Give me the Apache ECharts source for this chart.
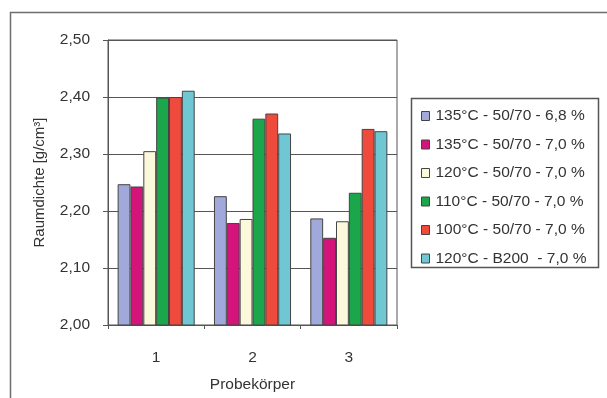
<!DOCTYPE html>
<html>
<head>
<meta charset="utf-8">
<script src="https://cdn.jsdelivr.net/npm/echarts@6/dist/echarts.min.js"></script>
<style>
html,body{margin:0;padding:0;background:#fff;}
#c{width:607px;height:398px;}
</style>
</head>
<body>
<div id="c"></div>
<script>
const categories = ['1', '2', '3'];
const seriesNames = [
  '135°C - 50/70 - 6,8 %',
  '135°C - 50/70 - 7,0 %',
  '120°C - 50/70 - 7,0 %',
  '110°C - 50/70 - 7,0 %',
  '100°C - 50/70 - 7,0 %',
  '120°C - B200  - 7,0 %'
];
const s1 = [2.247, 2.226, 2.187];
const s2 = [2.243, 2.179, 2.153];
const s3 = [2.305, 2.186, 2.182];
const s4 = [2.399, 2.362, 2.232];
const s5 = [2.400, 2.371, 2.344];
const s6 = [2.411, 2.336, 2.340];
const seriesValues = [s1, s2, s3, s4, s5, s6];
const colors = ['#a0a9d9', '#d4147b', '#fbf8dc', '#1ba64c', '#ee4b3c', '#6ec7d3'];
const yTicks = [2.0, 2.1, 2.2, 2.3, 2.4, 2.5];

const chart = echarts.init(document.getElementById('c'), null, {renderer: 'canvas'});
const font = '"Liberation Sans", Arial, sans-serif';

chart.setOption({
  animation: false,
  backgroundColor: '#ffffff',
  textStyle: {fontFamily: font},
  graphic: [
    {type: 'rect', shape: {x: 10.5, y: 12.5, width: 620, height: 420},
     style: {fill: 'none', stroke: '#6e6e6e', lineWidth: 1.5}, silent: true},
    {type: 'rect', shape: {x: 411.5, y: 98.5, width: 187, height: 169},
     style: {fill: '#ffffff', stroke: '#555555', lineWidth: 1.5}, z: 1, silent: true}
  ],
  grid: {left: 108, top: 40, width: 289, height: 285, containLabel: false,
         show: true, borderColor: '#555', borderWidth: 1},
  legend: {
    orient: 'vertical', left: 416, top: 103,
    itemWidth: 8, itemHeight: 9, itemGap: 12.5,
    icon: 'rect',
    textStyle: {fontSize: 15.5, color: '#333', fontFamily: font, padding: [0, 0, 0, 1]},
    itemStyle: {borderColor: '#444', borderWidth: 1},
    data: seriesNames, z: 5
  },
  xAxis: {
    type: 'category', data: categories,
    name: 'Probekörper', nameLocation: 'middle', nameGap: 52,
    nameTextStyle: {fontSize: 15.5, color: '#333', fontFamily: font},
    axisLine: {lineStyle: {color: '#555', width: 1}},
    axisTick: {show: true, length: 4, inside: false, lineStyle: {color: '#555'}},
    axisLabel: {fontSize: 15.5, color: '#333', margin: 25, fontFamily: font}
  },
  yAxis: {
    type: 'value', min: 2.0, max: 2.5, interval: 0.1,
    name: 'Raumdichte [g/cm³]', nameLocation: 'middle', nameGap: 61, nameRotate: 90,
    nameTextStyle: {fontSize: 15, color: '#333', fontFamily: font},
    axisLine: {show: true, lineStyle: {color: '#555', width: 1}},
    axisTick: {show: true, length: 5, lineStyle: {color: '#555'}},
    axisLabel: {fontSize: 15.5, color: '#333', margin: 18, fontFamily: font,
                formatter: v => {
                  const t = yTicks.find(x => Math.abs(x - v) < 1e-6);
                  return (t !== undefined ? t : v).toFixed(2).replace('.', ',');
                }},
    splitLine: {show: true, lineStyle: {color: '#555', width: 1}}
  },
  series: seriesValues.map((vals, i) => ({
    name: seriesNames[i], type: 'bar', data: vals,
    barGap: '0%', barCategoryGap: '20%',
    itemStyle: {color: colors[i], borderColor: '#444', borderWidth: 1}
  }))
});
</script>
</body>
</html>
